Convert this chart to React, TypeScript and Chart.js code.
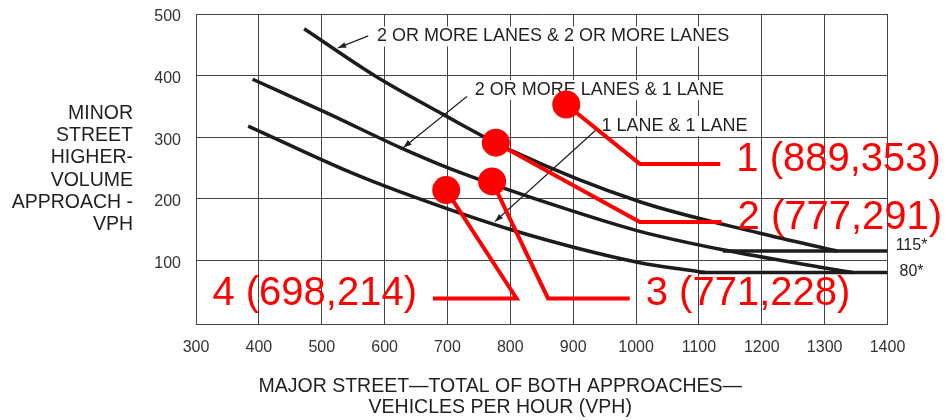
import React, { useEffect, useRef } from 'react';
import { Chart, registerables } from 'chart.js';

Chart.register(...registerables);

// ---- data ----
const xTicks = [300, 400, 500, 600, 700, 800, 900, 1000, 1100, 1200, 1300, 1400];
const yTicks = [100, 200, 300, 400, 500];

const curve2and2 = [
  { x: 472, y: 476 }, { x: 587, y: 398 }, { x: 693, y: 337 }, { x: 802, y: 278 },
  { x: 1006, y: 195 }, { x: 1197, y: 144 }, { x: 1320, y: 115 },
];
const curve2and1 = [
  { x: 390, y: 394 }, { x: 513, y: 337 }, { x: 625, y: 283 }, { x: 704, y: 249 },
  { x: 863, y: 192 }, { x: 1006, y: 147 }, { x: 1138, y: 117 }, { x: 1298, y: 88 },
  { x: 1345, y: 80 },
];
const curve1and1 = [
  { x: 383, y: 318 }, { x: 545, y: 243 }, { x: 625, y: 211 }, { x: 800, y: 150 },
  { x: 1006, y: 96 }, { x: 1091, y: 83 }, { x: 1110, y: 80 },
];
const line115 = [{ x: 1138, y: 115 }, { x: 1400, y: 115 }];
const line80 = [{ x: 1100, y: 80 }, { x: 1400, y: 80 }];

const thresholdLabels = ['115*', '80*'];
const thresholdValues = [115, 80];

const pointLabels = ['1 (889,353)', '2 (777,291)', '3 (771,228)', '4 (698,214)'];
const pointValues = [
  { x: 889, y: 353 }, { x: 777, y: 291 }, { x: 771, y: 228 }, { x: 698, y: 214 },
];
const leaderElbows = [
  { x: 1006, y: 256.5 }, { x: 1006, y: 162 }, { x: 860, y: 38 }, { x: 810, y: 38 },
];
const leaderEnds = [
  { x: 1134, y: 256.5 }, { x: 1136, y: 162 }, { x: 990, y: 38 }, { x: 677, y: 38 },
];

const curveLabels = ['2 OR MORE LANES & 2 OR MORE LANES', '2 OR MORE LANES & 1 LANE', '1 LANE & 1 LANE'];
const curveLabelAnchors = [{ x: 588, y: 463.5 }, { x: 743.5, y: 376.4 }, { x: 945, y: 318 }];
const arrowTails = [{ x: 574, y: 464.4 }, { x: 731, y: 366 }, { x: 937.5, y: 312.7 }];
const arrowTips = [{ x: 526, y: 445 }, { x: 630, y: 283.3 }, { x: 775.7, y: 163 }];

const yTitleLines = ['MINOR', 'STREET', 'HIGHER-', 'VOLUME', 'APPROACH -', 'VPH'];
const xTitleLines = ['MAJOR STREET\u2014TOTAL OF BOTH APPROACHES\u2014', 'VEHICLES PER HOUR (VPH)'];

const FONT = '"Liberation Sans", Arial, Helvetica, sans-serif';
const INK = '#231f20';
const GRID = '#444444';
const RED = '#ff0000';

export default function App() {
  const ref = useRef<HTMLCanvasElement>(null);

  useEffect(() => {
    const canvas = ref.current;
    if (!canvas) return;

    const toPx = (chart: any, p: { x: number; y: number }) => ({
      x: chart.scales.x.getPixelForValue(p.x),
      y: chart.scales.y.getPixelForValue(p.y),
    });

    const annotations = {
      id: 'annotations',
      beforeDatasetsDraw(chart: any) {
        const ctx = chart.ctx as CanvasRenderingContext2D;
        ctx.save();
        ctx.font = `18px ${FONT}`;
        ctx.textBaseline = 'middle';
        ctx.textAlign = 'left';
        curveLabels.forEach((t, i) => {
          const p = toPx(chart, curveLabelAnchors[i]);
          const w = ctx.measureText(t).width;
          ctx.fillStyle = '#ffffff';
          ctx.fillRect(p.x - 3, p.y - 10, w + 6, 20);
          ctx.fillStyle = INK;
          ctx.fillText(t, p.x, p.y);
          const a = toPx(chart, arrowTails[i]);
          const b = toPx(chart, arrowTips[i]);
          ctx.strokeStyle = INK;
          ctx.lineWidth = 1.2;
          ctx.beginPath();
          ctx.moveTo(a.x, a.y);
          ctx.lineTo(b.x, b.y);
          ctx.stroke();
          const ang = Math.atan2(b.y - a.y, b.x - a.x);
          const L = 8, W = 3;
          ctx.beginPath();
          ctx.moveTo(b.x, b.y);
          ctx.lineTo(b.x - L * Math.cos(ang) + W * Math.sin(ang), b.y - L * Math.sin(ang) - W * Math.cos(ang));
          ctx.lineTo(b.x - L * Math.cos(ang) - W * Math.sin(ang), b.y - L * Math.sin(ang) + W * Math.cos(ang));
          ctx.closePath();
          ctx.fillStyle = INK;
          ctx.fill();
        });
        ctx.restore();
      },
      afterDraw(chart: any) {
        const ctx = chart.ctx as CanvasRenderingContext2D;
        const area = chart.chartArea;
        ctx.save();
        // y-axis title
        ctx.font = `19.5px ${FONT}`;
        ctx.fillStyle = INK;
        ctx.textAlign = 'right';
        ctx.textBaseline = 'middle';
        const lh = 22.3;
        const midY = (area.top + area.bottom) / 2;
        yTitleLines.forEach((t, i) => {
          ctx.fillText(t, area.left - 63, midY + (i - (yTitleLines.length - 1) / 2) * lh);
        });
        // x-axis title
        ctx.textAlign = 'center';
        const cx = area.left + (area.right - area.left) * 0.44;
        xTitleLines.forEach((t, i) => {
          ctx.fillText(t, cx, area.bottom + 62 + i * 21);
        });
        // threshold labels
        ctx.font = `16px ${FONT}`;
        const nudges = [-5, -1];
        thresholdLabels.forEach((t, i) => {
          const y = chart.scales.y.getPixelForValue(thresholdValues[i]) + nudges[i];
          ctx.fillText(t, area.right + 24, y);
        });
        // red point labels
        ctx.font = `40px ${FONT}`;
        ctx.fillStyle = RED;
        ctx.textBaseline = 'alphabetic';
        pointLabels.forEach((t, i) => {
          const e = toPx(chart, leaderEnds[i]);
          const el = toPx(chart, leaderElbows[i]);
          const left = e.x < el.x;
          ctx.textAlign = left ? 'right' : 'left';
          ctx.fillText(t, e.x + (left ? -16 : 16), e.y + 7);
        });
        ctx.restore();
      },
    };

    const curveStyle = {
      showLine: true,
      borderColor: '#1c1c1c',
      borderWidth: 3.5,
      pointRadius: 0,
      cubicInterpolationMode: 'monotone' as const,
      borderCapStyle: 'butt' as const,
    };

    const chart = new Chart(canvas, {
      type: 'scatter',
      data: {
        datasets: [
          {
            data: pointValues,
            pointRadius: 14,
            pointBackgroundColor: RED,
            pointBorderWidth: 0,
            showLine: false,
          },
          ...pointValues.map((p, i) => ({
            data: [p, leaderElbows[i], leaderEnds[i]],
            showLine: true,
            borderColor: RED,
            borderWidth: 4,
            pointRadius: 0,
            tension: 0,
          })),
          { data: curve2and2, ...curveStyle },
          { data: curve2and1, ...curveStyle },
          { data: curve1and1, ...curveStyle },
          { data: line115, ...curveStyle },
          { data: line80, ...curveStyle },
        ] as any,
      },
      options: {
        animation: false,
        responsive: true,
        maintainAspectRatio: false,
        layout: { padding: { left: 0, right: 60.5, top: 6, bottom: 0 } },
        plugins: { legend: { display: false }, tooltip: { enabled: false } },
        scales: {
          x: {
            type: 'linear',
            min: 300,
            max: 1400,
            afterBuildTicks: (s: any) => { s.ticks = xTicks.map((v) => ({ value: v })); },
            afterFit: (s: any) => { s.height = 95.7; s.paddingLeft = 0; s.paddingRight = 0; },
            ticks: {
              callback: (v: any) => String(v),
              font: { family: FONT, size: 16 },
              color: '#333333',
              padding: 13.5,
              autoSkip: false,
              maxRotation: 0,
            },
            grid: { color: GRID, lineWidth: 1, drawTicks: false },
            border: { display: true, color: GRID, width: 1 },
          },
          y: {
            type: 'linear',
            min: -4,
            max: 500,
            afterBuildTicks: (s: any) => { s.ticks = yTicks.map((v) => ({ value: v })); },
            afterFit: (s: any) => { s.width = 196; s.paddingTop = 0; s.paddingBottom = 0; },
            ticks: {
              callback: (v: any) => String(v),
              font: { family: FONT, size: 16 },
              color: '#333333',
              padding: 15,
              labelOffset: 3,
              autoSkip: false,
            },
            grid: { color: GRID, lineWidth: 1, drawTicks: false },
            border: { display: true, color: GRID, width: 1 },
          },
        },
      } as any,
      plugins: [annotations],
    });

    return () => chart.destroy();
  }, []);

  return (
    <div style={{ position: 'fixed', left: 0, top: 0, width: 948, height: 420, background: '#ffffff' }}>
      <canvas ref={ref} />
    </div>
  );
}
